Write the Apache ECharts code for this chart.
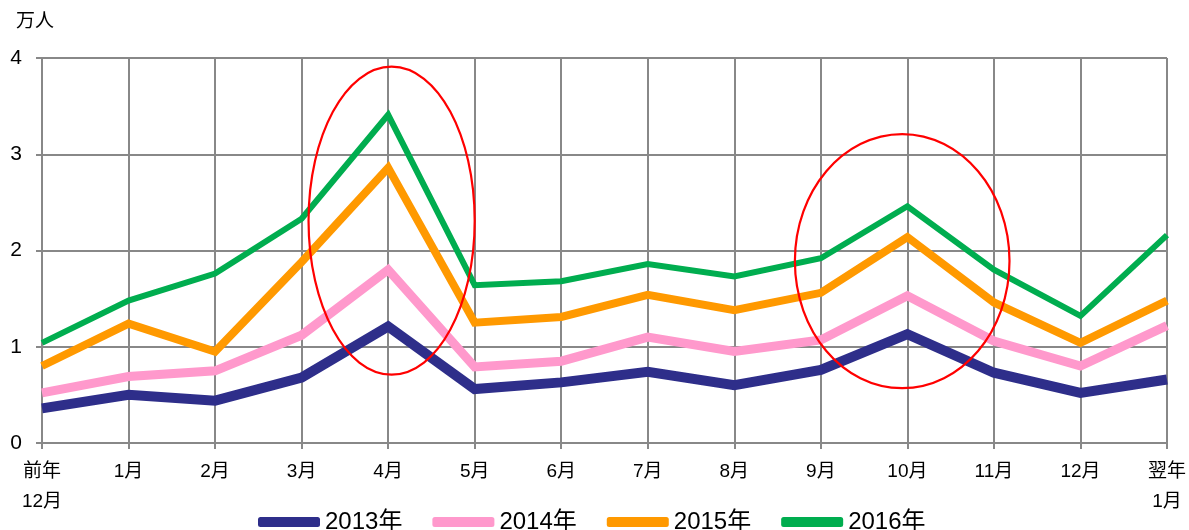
<!DOCTYPE html>
<html>
<head>
<meta charset="utf-8">
<script src="https://cdn.jsdelivr.net/npm/echarts@6/dist/echarts.min.js"></script>
<style>
  html, body { margin: 0; padding: 0; background: #ffffff; }
  #chart { width: 1189px; height: 530px; }
</style>
</head>
<body>
<div id="chart"></div>
<script>
// Monthly visitors (unit: 10,000 people), Dec of previous year to Jan of next year
const months = ['前年\n12月', '1月', '2月', '3月', '4月', '5月', '6月', '7月', '8月', '9月', '10月', '11月', '12月', '翌年\n1月'];
const yTicks = [0, 1, 2, 3, 4];
const seriesNames = ['2013年', '2014年', '2015年', '2016年'];

const values2013 = [0.36, 0.50, 0.44, 0.68, 1.21, 0.56, 0.63, 0.74, 0.60, 0.76, 1.13, 0.73, 0.52, 0.66];
const values2014 = [0.52, 0.69, 0.75, 1.12, 1.80, 0.79, 0.85, 1.10, 0.95, 1.07, 1.53, 1.06, 0.80, 1.22];
const values2015 = [0.80, 1.24, 0.95, 1.88, 2.86, 1.25, 1.31, 1.54, 1.38, 1.56, 2.14, 1.46, 1.04, 1.48];
const values2016 = [1.04, 1.48, 1.76, 2.33, 3.41, 1.64, 1.68, 1.86, 1.73, 1.92, 2.46, 1.80, 1.32, 2.16];

// Highlight ovals: [centre category position, centre value, half-width in categories, half-height in values]
const highlight1 = [4.04, 2.31, 0.96, 1.60];
const highlight2 = [9.94, 1.89, 1.24, 1.32];

const colors = ['#2e2e8a', '#ff99cc', '#ff9900', '#00ad4f'];
const widths = [10, 9, 8, 6];
const FONT = "'Liberation Sans', Arial, 'Noto Sans CJK JP', sans-serif";

const chart = echarts.init(document.getElementById('chart'), null, { renderer: 'canvas' });

const allValues = [values2013, values2014, values2015, values2016];

const option = {
  animation: false,
  backgroundColor: '#ffffff',
  title: {
    text: '万人',
    left: 11,
    top: 7,
    textStyle: { fontFamily: FONT, fontSize: 19, fontWeight: 'normal', color: '#000' }
  },
  grid: { left: 42, right: 16, top: 58, bottom: 87, containLabel: false },
  legend: {
    left: 253,
    top: 505,
    itemWidth: 62,
    itemHeight: 10,
    itemGap: 30,
    icon: 'roundRect',
    data: seriesNames,
    textStyle: { fontFamily: FONT, fontSize: 24, color: '#000' }
  },
  xAxis: {
    type: 'category',
    data: months,
    boundaryGap: false,
    axisLine: { lineStyle: { color: '#888888', width: 2 } },
    axisTick: { show: true, length: 6, alignWithLabel: true, lineStyle: { color: '#888888', width: 2 } },
    splitLine: { show: true, lineStyle: { color: '#888888', width: 2 } },
    axisLabel: {
      margin: 14,
      interval: 0,
      fontFamily: FONT,
      fontSize: 19,
      lineHeight: 30,
      color: '#000',
      verticalAlign: 'top'
    }
  },
  yAxis: {
    type: 'value',
    min: yTicks[0],
    max: yTicks[yTicks.length - 1],
    interval: 1,
    axisLine: { show: true, lineStyle: { color: '#888888', width: 2 } },
    axisTick: { show: true, length: 6, lineStyle: { color: '#888888', width: 2 } },
    splitLine: { show: true, lineStyle: { color: '#888888', width: 2 } },
    axisLabel: { margin: 20, fontFamily: FONT, fontSize: 21, color: '#000' }
  },
  series: seriesNames.map((name, i) => ({
    name: name,
    type: 'line',
    data: allValues[i],
    symbol: 'none',
    color: colors[i],
    z: 2 + i,
    lineStyle: { color: colors[i], width: widths[i], join: 'miter', cap: 'butt' }
  }))
};

chart.setOption(option);

// Red ovals around the two peak periods, placed through the chart's own scales
function ovalFrom(spec) {
  const p0 = chart.convertToPixel({ gridIndex: 0 }, [0, 0]);
  const p1 = chart.convertToPixel({ gridIndex: 0 }, [1, 1]);
  const step = p1[0] - p0[0];
  const unit = p0[1] - p1[1];
  return {
    type: 'ellipse',
    z: 100,
    shape: {
      cx: p0[0] + spec[0] * step,
      cy: p0[1] - spec[1] * unit,
      rx: spec[2] * step,
      ry: spec[3] * unit
    },
    style: { fill: null, stroke: '#ff0000', lineWidth: 2.2 }
  };
}

chart.setOption({ graphic: [ovalFrom(highlight1), ovalFrom(highlight2)] });
</script>
</body>
</html>
